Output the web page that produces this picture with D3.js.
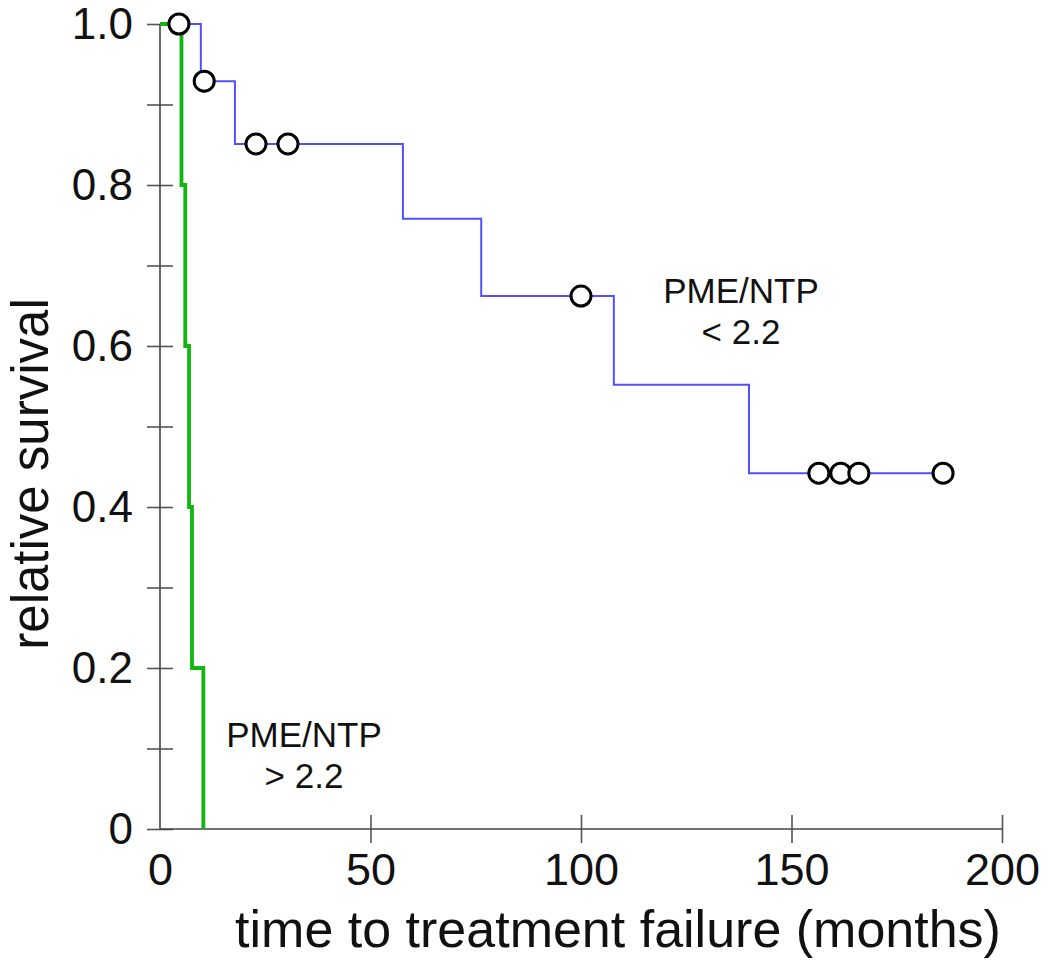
<!DOCTYPE html>
<html>
<head>
<meta charset="utf-8">
<script src="https://cdn.jsdelivr.net/npm/d3@7"></script>
<style>
  html, body { margin: 0; padding: 0; background: #fff; }
  svg { display: block; font-family: "Liberation Sans", Arial, sans-serif; }
</style>
</head>
<body>
<svg id="chart" width="1050" height="980"></svg>
<script>
// ---- data ----
const lowTimes   = [0, 9.7, 17.8, 57.7, 76.3, 107.8, 139.9, 186];
const lowSurv    = [1.0, 0.929, 0.851, 0.758, 0.662, 0.552, 0.442, 0.442];
const lowCensorT = [4.5, 10.5, 22.8, 30.4, 100, 156.5, 161.7, 166, 186];
const lowCensorS = [1.0, 0.929, 0.851, 0.851, 0.662, 0.442, 0.442, 0.442, 0.442];
const highTimes  = [0, 5.1, 6.0, 6.9, 7.6, 10.3];
const highSurv   = [1.0, 0.8, 0.6, 0.4, 0.2, 0.0];
const xTicks = [0, 50, 100, 150, 200];
const yTicks = [0, 0.1, 0.2, 0.3, 0.4, 0.5, 0.6, 0.7, 0.8, 0.9, 1.0];
const yLabels = {0: "0", 0.2: "0.2", 0.4: "0.4", 0.6: "0.6", 0.8: "0.8", 1: "1.0"};

const svg = d3.select("#chart");
const x = d3.scaleLinear().domain([0, 200]).range([160, 1002]);
const y = d3.scaleLinear().domain([0, 1]).range([829, 24]);

// y axis
const yAxis = d3.axisLeft(y).tickValues(yTicks).tickSize(13).tickPadding(14)
  .tickFormat(d => { const k = Math.round(d * 10) / 10; return yLabels[k] !== undefined ? yLabels[k] : ""; });
const gy = svg.append("g").attr("transform", "translate(160,0)").call(yAxis);
gy.select(".domain").remove();
gy.selectAll(".tick line").attr("x1", 13).attr("stroke", "#555").attr("stroke-width", 1.6);
gy.selectAll(".tick text").attr("font-size", 44).attr("fill", "#111").attr("font-family", "Liberation Sans, Arial, sans-serif");
svg.append("line").attr("x1", 160).attr("x2", 160).attr("y1", y(1)).attr("y2", y(0))
  .attr("stroke", "#444").attr("stroke-width", 1.6);

// x axis
const xAxis = d3.axisBottom(x).tickValues(xTicks).tickSize(14).tickPadding(10).tickFormat(d3.format("d"));
const gx = svg.append("g").attr("transform", "translate(0,829)").call(xAxis);
gx.select(".domain").remove();
gx.selectAll(".tick line").attr("y1", -14).attr("stroke", "#555").attr("stroke-width", 1.6);
gx.selectAll(".tick").filter(d => d === 0).select("line").remove();
gx.selectAll(".tick text").attr("font-size", 45).attr("fill", "#111").attr("font-family", "Liberation Sans, Arial, sans-serif");
svg.append("line").attr("x1", x(0)).attr("x2", x(200)).attr("y1", 829).attr("y2", 829)
  .attr("stroke", "#444").attr("stroke-width", 1.6);

// axis titles
svg.append("text").attr("x", 618).attr("y", 947).attr("text-anchor", "middle")
  .attr("font-size", 52).attr("fill", "#111").text("time to treatment failure (months)");
svg.append("text").attr("transform", "translate(48,474) rotate(-90)").attr("text-anchor", "middle")
  .attr("font-size", 51).attr("fill", "#111").text("relative survival");

// curves
const step = d3.line().x(d => x(d[0])).y(d => y(d[1])).curve(d3.curveStepAfter);
svg.append("path").datum(lowTimes.map((t, i) => [t, lowSurv[i]]))
  .attr("d", step).attr("fill", "none").attr("stroke", "#5050ff").attr("stroke-width", 2);
svg.append("path").datum(highTimes.map((t, i) => [t, highSurv[i]]))
  .attr("d", step).attr("fill", "none").attr("stroke", "#11b611").attr("stroke-width", 3.8);

// censor marks
svg.append("g").selectAll("circle").data(lowCensorT.map((t, i) => [t, lowCensorS[i]]))
  .join("circle").attr("cx", d => x(d[0])).attr("cy", d => y(d[1])).attr("r", 10)
  .attr("fill", "#fff").attr("stroke", "#000").attr("stroke-width", 3);

// annotations
const ann = [
  {lines: ["PME/NTP", "< 2.2"], cx: 741, y0: 303},
  {lines: ["PME/NTP", "> 2.2"], cx: 304, y0: 747}
];
ann.forEach(a => {
  a.lines.forEach((l, i) => {
    svg.append("text").attr("x", a.cx).attr("y", a.y0 + i * 41).attr("text-anchor", "middle")
      .attr("font-size", 35).attr("fill", "#111").text(l);
  });
});
</script>
</body>
</html>
